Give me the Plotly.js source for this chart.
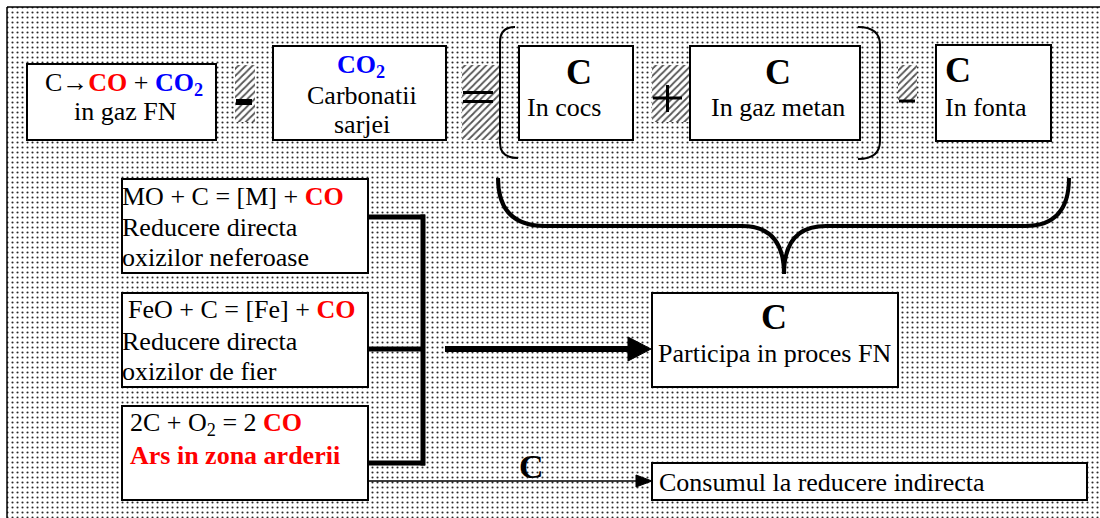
<!DOCTYPE html>
<html>
<head>
<meta charset="utf-8">
<script src="https://cdn.plot.ly/plotly-3.0.1.min.js"></script>
<style>html,body{margin:0;padding:0;background:#fff;}#chart{width:1100px;height:518px;}</style>
</head>
<body>
<div id="chart"></div>
<script>
// ---- text content (data) ----
const RED = '#ff0000', BLUE = '#0000ff';
const box1Lines = ['C\u2192<b><span style="color:' + RED + '">CO</span></b> + <b><span style="color:' + BLUE + '">CO<sub>2</sub></span></b>', 'in gaz FN'];
const box2Lines = ['<b><span style="color:' + BLUE + '">CO<sub>2</sub></span></b>', 'Carbonatii', 'sarjei'];
const box3Lines = ['<b>C</b>', 'In cocs'];
const box4Lines = ['<b>C</b>', 'In gaz metan'];
const box5Lines = ['<b>C</b>', 'In fonta'];
const leftALines = ['MO + C = [M] + <b><span style="color:' + RED + '">CO</span></b>', 'Reducere directa', 'oxizilor neferoase'];
const leftBLines = ['FeO + C = [Fe] + <b><span style="color:' + RED + '">CO</span></b>', 'Reducere directa', 'oxizilor de fier'];
const leftCLines = ['2C + O<sub>2</sub> = 2 <b><span style="color:' + RED + '">CO</span></b>', '<b><span style="color:' + RED + '">Ars in zona arderii</span></b>'];
const particLines = ['<b>C</b>', 'Participa in proces FN'];
const consumLines = ['Consumul la reducere indirecta'];
const arrowLabel = ['<b>C</b>'];

// ---- layout geometry (pixel space) ----
const boxes = [
  [27, 64, 216, 140], [273, 46, 446, 140], [519, 46, 633, 140], [690, 46, 860, 140], [936, 45, 1051, 141],
  [122, 179, 368, 273], [122, 293, 368, 387], [122, 406, 368, 500],
  [652, 293, 898, 387], [652, 463, 1087, 500]
];
const hatches = [[235, 65, 255, 122], [462, 65, 500, 140], [652, 65, 690, 122], [898, 65, 917, 100]];

const FONT = 'Liberation Serif';
const annotations = [];
function add(text, x, y, opts) {
  opts = opts || {};
  annotations.push({
    text: text, x: x, y: y, xref: 'x', yref: 'y', showarrow: false,
    xanchor: opts.xa || 'center', yanchor: 'middle',
    font: {family: FONT, size: opts.size || 26, color: 'black'}
  });
}
add(box1Lines[0], 124, 84); add(box1Lines[1], 125, 111);
add(box2Lines[0], 361, 66); add(box2Lines[1], 362, 95); add(box2Lines[2], 362, 124);
add(box3Lines[0], 579, 72, {size: 36}); add(box3Lines[1], 525, 107, {xa: 'left'});
add(box4Lines[0], 778, 72, {size: 36}); add(box4Lines[1], 778, 107);
add(box5Lines[0], 943, 70, {xa: 'left', size: 36}); add(box5Lines[1], 943, 107, {xa: 'left'});
add(leftALines[0], 120, 196, {xa: 'left'}); add(leftALines[1], 120, 227, {xa: 'left'}); add(leftALines[2], 120, 257, {xa: 'left'});
add(leftBLines[0], 126, 309, {xa: 'left'}); add(leftBLines[1], 120, 341, {xa: 'left'}); add(leftBLines[2], 120, 371, {xa: 'left'});
add(leftCLines[0], 128, 424, {xa: 'left'}); add(leftCLines[1], 128, 455, {xa: 'left'});
add(particLines[0], 774, 317, {size: 36}); add(particLines[1], 774, 353);
add(consumLines[0], 657, 482, {xa: 'left'});
add(arrowLabel[0], 531, 466, {size: 34});

const shapes = [];
boxes.forEach(b => shapes.push({type: 'rect', xref: 'x', yref: 'y', x0: b[0], y0: b[1], x1: b[2], y1: b[3],
  fillcolor: 'white', line: {color: 'black', width: 2}, layer: 'above'}));
function rect(x0, y0, x1, y1) { shapes.push({type: 'rect', xref: 'x', yref: 'y', x0, y0, x1, y1, fillcolor: 'black', line: {width: 0}, layer: 'above'}); }
function line(x0, y0, x1, y1, w) { shapes.push({type: 'line', xref: 'x', yref: 'y', x0, y0, x1, y1, line: {color: 'black', width: w}, layer: 'above'}); }
function path(p, w, fill) { shapes.push({type: 'path', xref: 'x', yref: 'y', path: p, line: {color: 'black', width: w}, fillcolor: fill || 'rgba(0,0,0,0)', layer: 'above'}); }
// operators
rect(236, 99, 252, 105);
rect(463, 91, 493, 94); rect(463, 100, 493, 103);
line(653, 98, 682, 98, 3); line(667.5, 85, 667.5, 112, 3);
rect(899, 99.5, 915, 102.5);
// brackets
path('M 515 27 Q 500 27 500 42 L 500 143 Q 500 158 518 158', 2);
path('M 858 27 Q 880 27 880 45 L 880 141 Q 880 159 858 159', 2);
// curly brace
path('M 498 178 Q 498 226 545 226 L 742 226 Q 784 226 784 274 Q 784 226 826 226 L 1025 226 Q 1069 226 1069 178', 4);
// connectors
line(368, 217, 425, 217, 5); line(368, 349, 425, 349, 5); line(368, 463, 425, 463, 5);
line(423, 214.5, 423, 465.5, 5);
// thick arrow
line(445, 349, 632, 349, 6);
path('M 628 337 L 651 349 L 628 361 Z', 1, 'black');
// thin arrow
line(368, 481, 640, 481, 1.5);
path('M 636 475 L 652 481 L 636 487 Z', 1, 'black');

const traces = [{
  x: [7, 1110, 1110, 7, 7], y: [7, 7, 530, 530, 7], mode: 'lines', fill: 'toself',
  line: {color: 'black', width: 1.5},
  fillcolor: 'white',
  fillpattern: {shape: '.', size: 5, solidity: 0.14, fgcolor: '#2a2a2a', bgcolor: 'white', fillmode: 'replace'},
  hoverinfo: 'skip', showlegend: false
}];
hatches.forEach(h => traces.push({
  x: [h[0], h[2], h[2], h[0], h[0]], y: [h[1], h[1], h[3], h[3], h[1]], mode: 'lines', fill: 'toself',
  line: {width: 0, color: 'rgba(0,0,0,0)'}, fillcolor: 'white',
  fillpattern: {shape: '/', size: 5, solidity: 0.35, fgcolor: '#555', bgcolor: 'white', fillmode: 'replace'},
  hoverinfo: 'skip', showlegend: false
}));

const layout = {
  width: 1100, height: 518, margin: {l: 0, r: 0, t: 0, b: 0},
  paper_bgcolor: 'white', plot_bgcolor: 'white', showlegend: false,
  font: {family: FONT},
  xaxis: {range: [0, 1100], visible: false, fixedrange: true},
  yaxis: {range: [518, 0], visible: false, fixedrange: true},
  shapes: shapes, annotations: annotations
};
Plotly.newPlot('chart', traces, layout, {staticPlot: true, displayModeBar: false});
</script>
</body>
</html>
